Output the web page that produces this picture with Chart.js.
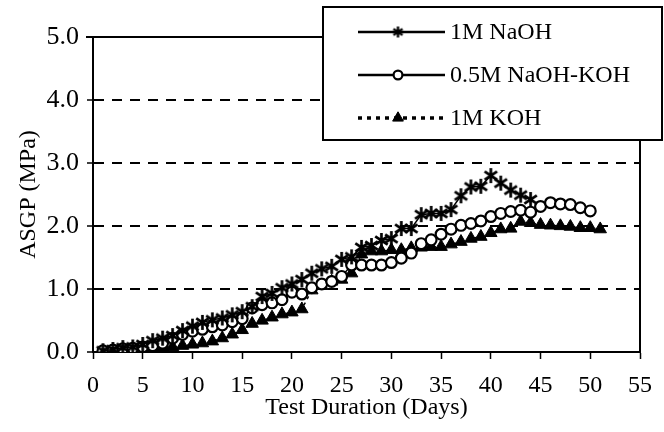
<!DOCTYPE html>
<html>
<head>
<meta charset="utf-8">
<title>ASGP vs Test Duration</title>
<script src="https://cdn.jsdelivr.net/npm/chart.js@4.4.1/dist/chart.umd.min.js"></script>
<style>
  html, body { margin: 0; padding: 0; background: #fff; }
  canvas { display: block; }
</style>
</head>
<body>
<canvas id="asgpChart" width="664" height="432"></canvas>
<script>
// ASGP (MPa) against test duration for three alkaline soak solutions
const seriesLabels = ['1M NaOH', '0.5M NaOH-KOH', '1M KOH'];

const naohDays = [1, 2, 3, 4, 5, 6, 7, 8, 9, 10, 11, 12, 13, 14, 15, 16, 17, 18, 19, 20, 21, 22,
    23, 24, 25, 26, 27, 28, 29, 30, 31, 32, 33, 34, 35, 36, 37, 38, 39, 40, 41, 42, 43, 44];
const naohAsgp = [0.02, 0.04, 0.07, 0.08, 0.12, 0.18, 0.22, 0.26, 0.34, 0.41, 0.47, 0.51, 0.54, 0.59,
    0.64, 0.72, 0.88, 0.93, 1.02, 1.08, 1.15, 1.25, 1.32, 1.36, 1.47, 1.51, 1.66, 1.69, 1.77, 1.80,
    1.96, 1.96, 2.18, 2.20, 2.20, 2.26, 2.48, 2.62, 2.63, 2.80, 2.68, 2.57, 2.49, 2.42];

const mixDays = [1, 2, 3, 4, 5, 6, 7, 8, 9, 10, 11, 12, 13, 14, 15, 16, 17, 18, 19, 20, 21, 22, 23, 24, 25,
    26, 27, 28, 29, 30, 31, 32, 33, 34, 35, 36, 37, 38, 39, 40, 41, 42, 43, 44, 45, 46, 47, 48, 49, 50];
const mixAsgp = [0.02, 0.03, 0.05, 0.06, 0.08, 0.10, 0.14, 0.22, 0.28, 0.33, 0.36, 0.40, 0.43, 0.48,
    0.53, 0.70, 0.75, 0.78, 0.83, 0.95, 0.92, 1.02, 1.08, 1.12, 1.20, 1.38, 1.38, 1.38, 1.38, 1.42,
    1.49, 1.57, 1.72, 1.78, 1.87, 1.95, 2.01, 2.04, 2.08, 2.15, 2.20, 2.23, 2.25, 2.22, 2.31, 2.37,
    2.35, 2.34, 2.29, 2.24];

const kohDays = [1, 2, 3, 4, 5, 6, 7, 8, 9, 10, 11, 12, 13, 14, 15, 16, 17, 18, 19, 20, 21, 22, 23, 24, 25,
    26, 27, 28, 29, 30, 31, 32, 33, 34, 35, 36, 37, 38, 39, 40, 41, 42, 43, 44, 45, 46, 47, 48, 49, 50, 51];
const kohAsgp = [0.00, 0.02, 0.03, 0.04, 0.05, 0.06, 0.07, 0.08, 0.10, 0.12, 0.14, 0.17, 0.22, 0.28,
    0.35, 0.45, 0.50, 0.55, 0.60, 0.63, 0.68, 0.98, 1.05, 1.12, 1.15, 1.25, 1.55, 1.60, 1.60, 1.62,
    1.62, 1.65, 1.66, 1.67, 1.67, 1.71, 1.75, 1.80, 1.83, 1.89, 1.95, 1.96, 2.07, 2.05, 2.02, 2.01,
    2.00, 1.99, 1.97, 1.97, 1.95];

const xTickValues = [0, 5, 10, 15, 20, 25, 30, 35, 40, 45, 50, 55];
const yTickValues = [0, 1, 2, 3, 4, 5];

const FONT = "'Liberation Serif', 'Times New Roman', serif";

// six-armed asterisk used for the NaOH series
function makeStarMarker(size, width) {
    const c = document.createElement('canvas');
    c.width = size;
    c.height = size;
    const g = c.getContext('2d');
    const m = size / 2, r = size / 2 - 1;
    const dx = r * Math.sin(Math.PI / 3.2), dy = r * Math.cos(Math.PI / 3.2);
    g.strokeStyle = '#000';
    g.lineWidth = width;
    g.beginPath();
    g.moveTo(m, m - r); g.lineTo(m, m + r);
    g.moveTo(m - dx, m - dy); g.lineTo(m + dx, m + dy);
    g.moveTo(m + dx, m - dy); g.lineTo(m - dx, m + dy);
    g.stroke();
    return c;
}

const starMarker = makeStarMarker(17, 2.7);
const starMarkerSmall = makeStarMarker(13, 2.4);

function toPoints(days, values) {
    return values.map((v, i) => ({ x: days[i], y: v }));
}

function fixedTicks(values) {
    return function(scale) { scale.ticks = values.map(v => ({ value: v })); };
}

// top and right edges of the plotting area
const framePlugin = {
    id: 'frame',
    beforeDatasetsDraw(chart) {
        const { ctx, chartArea: a } = chart;
        ctx.save();
        ctx.strokeStyle = '#000';
        ctx.lineWidth = 2;
        ctx.beginPath();
        ctx.moveTo(a.left - 7, a.top);
        ctx.lineTo(a.right, a.top);
        ctx.lineTo(a.right, a.bottom);
        ctx.stroke();
        ctx.restore();
    }
};

// boxed legend in the top right corner
const legendBoxPlugin = {
    id: 'legendBox',
    afterDraw(chart) {
        const ctx = chart.ctx;
        const box = { x: 323, y: 7, w: 339, h: 133 };
        ctx.save();
        ctx.fillStyle = '#fff';
        ctx.fillRect(box.x, box.y, box.w, box.h);
        ctx.strokeStyle = '#000';
        ctx.lineWidth = 2;
        ctx.strokeRect(box.x, box.y, box.w, box.h);

        chart.data.datasets.forEach((ds, i) => {
            const y = box.y + 25 + i * 43;
            ctx.strokeStyle = '#000';
            ctx.lineWidth = ds.borderDash ? 3.5 : 2.4;
            ctx.setLineDash(ds.borderDash ? [4, 5] : []);
            ctx.beginPath();
            ctx.moveTo(358, y);
            ctx.lineTo(445, y);
            ctx.stroke();
            ctx.setLineDash([]);

            ctx.fillStyle = ds.pointBackgroundColor;
            ctx.lineWidth = ds.pointBorderWidth;
            const style = ds.pointStyle === starMarker ? starMarkerSmall : ds.pointStyle;
            Chart.helpers.drawPoint(ctx, {
                pointStyle: style, radius: ds.pointRadius - 1, rotation: 0, borderWidth: ds.pointBorderWidth
            }, 398, y);

            ctx.fillStyle = '#000';
            ctx.font = '24px ' + FONT;
            ctx.textAlign = 'left';
            ctx.textBaseline = 'middle';
            ctx.fillText(ds.label, 450, y + 1);
        });
        ctx.restore();
    }
};

const ctx = document.getElementById('asgpChart').getContext('2d');

new Chart(ctx, {
    type: 'line',
    data: {
        datasets: [
            {
                label: seriesLabels[0],
                data: toPoints(naohDays, naohAsgp),
                borderColor: '#000', borderWidth: 1.5,
                pointStyle: starMarker, pointRadius: 8,
                pointBackgroundColor: '#000', pointBorderColor: '#000', pointBorderWidth: 1
            },
            {
                label: seriesLabels[1],
                data: toPoints(mixDays, mixAsgp),
                borderColor: '#000', borderWidth: 1.5,
                pointStyle: 'circle', pointRadius: 5.4,
                pointBackgroundColor: '#fff', pointBorderColor: '#000', pointBorderWidth: 2.2
            },
            {
                label: seriesLabels[2],
                data: toPoints(kohDays, kohAsgp),
                borderColor: '#000', borderWidth: 1.5, borderDash: [3, 4],
                pointStyle: 'triangle', pointRadius: 7.2,
                pointBackgroundColor: '#000', pointBorderColor: '#000', pointBorderWidth: 1
            }
        ]
    },
    options: {
        responsive: false,
        animation: false,
        layout: { padding: { top: 37, right: 22, left: 0, bottom: 0 } },
        plugins: { legend: { display: false }, tooltip: { enabled: false } },
        scales: {
            x: {
                type: 'linear',
                min: 0, max: 55,
                afterBuildTicks: fixedTicks(xTickValues),
                afterFit(scale) { scale.height = 80; },
                grid: { drawOnChartArea: false, drawTicks: true, tickLength: 7, tickColor: '#000', tickWidth: 1.5 },
                border: { display: true, color: '#000', width: 2 },
                ticks: { color: '#000', padding: 12, font: { family: FONT, size: 24 }, maxRotation: 0 },
                title: {
                    display: true, text: 'Test Duration (Days)', color: '#000',
                    font: { family: FONT, size: 24 }, padding: { top: 0, bottom: 10 }
                }
            },
            y: {
                min: 0, max: 5,
                afterBuildTicks: fixedTicks(yTickValues),
                afterFit(scale) { scale.width = 93; },
                grid: {
                    color: c => (c.tick && (c.tick.value === 0 || c.tick.value === 5)) ? 'rgba(0,0,0,0)' : '#000',
                    lineWidth: 2,
                    tickLength: 6, tickColor: '#000', tickWidth: 1.5, tickBorderDash: []
                },
                border: { display: true, color: '#000', width: 2, dash: [10, 8] },
                ticks: {
                    color: '#000', padding: 8, font: { family: FONT, size: 26 },
                    callback: v => v.toFixed(1)
                },
                title: {
                    display: true, text: 'ASGP (MPa)', color: '#000',
                    font: { family: FONT, size: 24 }, padding: { top: 14, bottom: 0 }
                }
            }
        }
    },
    plugins: [framePlugin, legendBoxPlugin]
});
</script>
</body>
</html>
